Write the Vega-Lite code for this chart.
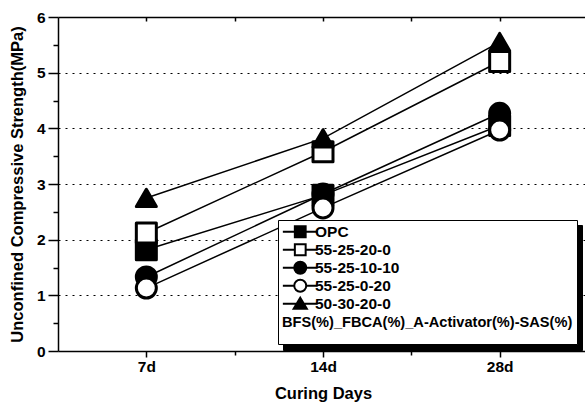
{
  "$schema": "https://vega.github.io/schema/vega-lite/v6.json",
  "width": 530,
  "height": 334,
  "autosize": "none",
  "padding": {"left": 58, "top": 17, "right": 0, "bottom": 53},
  "background": "white",
  "config": {
    "view": {"stroke": null},
    "font": "Liberation Sans",
    "axis": {
      "labelFont": "Liberation Sans",
      "labelFontWeight": "bold",
      "labelFontSize": 15.5,
      "labelColor": "black",
      "titleFont": "Liberation Sans",
      "titleFontWeight": "bold",
      "titleFontSize": 16.5,
      "titleColor": "black",
      "domainColor": "black",
      "tickColor": "black",
      "domainWidth": 1.5,
      "tickWidth": 1.5,
      "grid": false,
      "labelFlush": false
    },
    "legend": {
      "labelFont": "Liberation Sans",
      "labelFontWeight": "bold",
      "labelFontSize": 15.5,
      "titleFont": "Liberation Sans",
      "titleFontWeight": "bold",
      "titleFontSize": 14.6,
      "titleLineHeight": 10,
      "titleLimit": 500,
      "labelLimit": 300
    }
  },
  "data": {
    "values": [
      {"series": "OPC", "day": 7, "ucs": 1.82},
      {"series": "OPC", "day": 14, "ucs": 2.8},
      {"series": "OPC", "day": 28, "ucs": 4.05},
      {"series": "55-25-20-0", "day": 7, "ucs": 2.12},
      {"series": "55-25-20-0", "day": 14, "ucs": 3.58},
      {"series": "55-25-20-0", "day": 28, "ucs": 5.2},
      {"series": "55-25-10-10", "day": 7, "ucs": 1.33},
      {"series": "55-25-10-10", "day": 14, "ucs": 2.82},
      {"series": "55-25-10-10", "day": 28, "ucs": 4.27},
      {"series": "55-25-0-20", "day": 7, "ucs": 1.13},
      {"series": "55-25-0-20", "day": 14, "ucs": 2.57},
      {"series": "55-25-0-20", "day": 28, "ucs": 3.97},
      {"series": "50-30-20-0", "day": 7, "ucs": 2.75},
      {"series": "50-30-20-0", "day": 14, "ucs": 3.82},
      {"series": "50-30-20-0", "day": 28, "ucs": 5.55}
    ]
  },
  "layer": [
    {
      "mark": {"type": "line", "strokeWidth": 1.5},
      "encoding": {
        "x": {
          "field": "day", "type": "quantitative",
          "scale": {"type": "log", "base": 2, "domain": [4.9497, 39.598], "nice": false},
          "axis": {"orient": "bottom", "values": [7, 14, 28], "labelExpr": "datum.value + 'd'", "tickSize": 6, "labelPadding": 2, "title": "Curing Days", "titlePadding": 11}
        },
        "y": {
          "field": "ucs", "type": "quantitative",
          "scale": {"domain": [0, 6], "nice": false},
          "axis": {"orient": "left", "values": [0, 1, 2, 3, 4, 5, 6], "tickSize": 10, "labelPadding": 3, "title": "Unconfined Compressive Strength(MPa)", "titlePadding": 11}
        },
        "color": {
          "field": "series", "type": "nominal",
          "scale": {"domain": ["OPC", "55-25-20-0", "55-25-10-10", "55-25-0-20", "50-30-20-0"], "range": ["black", "black", "black", "black", "black"]},
          "legend": {
            "orient": "none", "legendX": 220, "legendY": 203, "direction": "vertical",
            "title": ["BFS(%)_FBCA(%)_A-Activator(%)-SAS(%)", " "],
            "titleOrient": "bottom", "titleAnchor": "start", "titlePadding": 2, "titleColor": "black",
            "labelColor": "black", "labelOffset": 7, "symbolOffset": 10.5, "symbolSize": 144, "symbolStrokeWidth": 2, "rowPadding": -3.2, "padding": 4,
            "fillColor": "white", "strokeColor": "black", "zindex": 2,
            "encode": {"symbols": {"update": {
              "shape": {"signal": "datum.value === 'OPC' || datum.value === '55-25-20-0' ? 'M-2.9,0H-0.9M0.9,0H2.9M-0.9,-0.9H0.9V0.9H-0.9Z' : datum.value === '50-30-20-0' ? 'M-2.9,0H-0.6M0.6,0H2.9M0,-1L1.1,0.85L-1.1,0.85Z' : 'M-2.9,0H-1M1,0H2.9M1,0A1,1 0 1 1 -1,0A1,1 0 1 1 1,0Z'"},
              "fill": {"signal": "datum.value === '55-25-20-0' || datum.value === '55-25-0-20' ? 'white' : 'black'"},
              "stroke": {"value": "black"}, "strokeWidth": {"value": 2}, "size": {"value": 144}, "opacity": {"value": 1}
            }}}
          }
        }
      }
    },
    {
      "mark": {"type": "point", "filled": true, "opacity": 1, "fillOpacity": 1, "stroke": "black", "strokeWidth": 3, "strokeJoin": "round"},
      "encoding": {
        "x": {
          "field": "day", "type": "quantitative",
          "axis": {"orient": "bottom", "values": [9.8995, 19.799], "tickSize": 4, "labels": false, "domain": false, "title": null}
        },
        "y": {
          "field": "ucs", "type": "quantitative",
          "axis": {"orient": "left", "values": [0.5, 1.5, 2.5, 3.5, 4.5, 5.5], "tickSize": 5, "labels": false, "domain": false, "title": null}
        },
        "shape": {
          "field": "series", "type": "nominal",
          "scale": {"domain": ["50-30-20-0", "OPC", "55-25-20-0", "55-25-10-10", "55-25-0-20"], "range": ["triangle-up", "square", "square", "circle", "circle"]},
          "legend": null
        },
        "fill": {
          "field": "series", "type": "nominal",
          "scale": {"domain": ["55-25-20-0", "OPC", "55-25-10-10", "55-25-0-20", "50-30-20-0"], "range": ["white", "black", "black", "white", "black"]},
          "legend": null
        },
        "size": {
          "field": "series", "type": "nominal",
          "scale": {"domain": ["OPC", "55-25-20-0", "55-25-0-20", "55-25-10-10", "50-30-20-0"], "range": [400, 400, 484, 484, 784]},
          "legend": null
        }
      }
    },
    {
      "mark": {"type": "point", "opacity": 0},
      "encoding": {
        "x": {
          "field": "day", "type": "quantitative",
          "axis": {"orient": "top", "values": [7, 9.8995, 14, 19.799, 28], "tickSize": -4, "labels": false, "title": null}
        },
        "y": {
          "field": "ucs", "type": "quantitative",
          "axis": {"orient": "left", "values": [1, 2, 3, 4, 5], "ticks": false, "labels": false, "domain": false, "title": null, "grid": true, "gridColor": "black", "gridDash": [2, 5], "gridWidth": 1}
        },
        "color": {
          "field": "series", "type": "nominal",
          "scale": {"domain": ["50-30-20-0", "55-25-0-20", "55-25-10-10", "55-25-20-0", "OPC"], "range": ["black", "black", "black", "black", "black"]},
          "legend": {
            "orient": "none", "legendX": 225, "legendY": 208, "direction": "vertical",
            "title": ["BFS(%)_FBCA(%)_A-Activator(%)-SAS(%)", " "],
            "titleOrient": "bottom", "titleAnchor": "start", "titlePadding": 2, "titleColor": "black",
            "labelColor": "black", "labelOffset": 7, "symbolOffset": 10.5, "symbolSize": 144, "symbolStrokeWidth": 2, "rowPadding": -3.2, "padding": 4,
            "fillColor": "black", "strokeColor": "black", "zindex": 1,
            "encode": {"symbols": {"update": {
              "shape": {"signal": "datum.value === 'OPC' || datum.value === '55-25-20-0' ? 'M-2.9,0H-0.9M0.9,0H2.9M-0.9,-0.9H0.9V0.9H-0.9Z' : datum.value === '50-30-20-0' ? 'M-2.9,0H-0.6M0.6,0H2.9M0,-1L1.1,0.85L-1.1,0.85Z' : 'M-2.9,0H-1M1,0H2.9M1,0A1,1 0 1 1 -1,0A1,1 0 1 1 1,0Z'"},
              "fill": {"value": "black"}, "stroke": {"value": "black"}, "strokeWidth": {"value": 2}, "size": {"value": 144}, "opacity": {"value": 1}
            }}}
          }
        }
      }
    }
  ],
  "resolve": {
    "axis": {"x": "independent", "y": "independent"},
    "scale": {"color": "independent"},
    "legend": {"color": "independent"}
  }
}
